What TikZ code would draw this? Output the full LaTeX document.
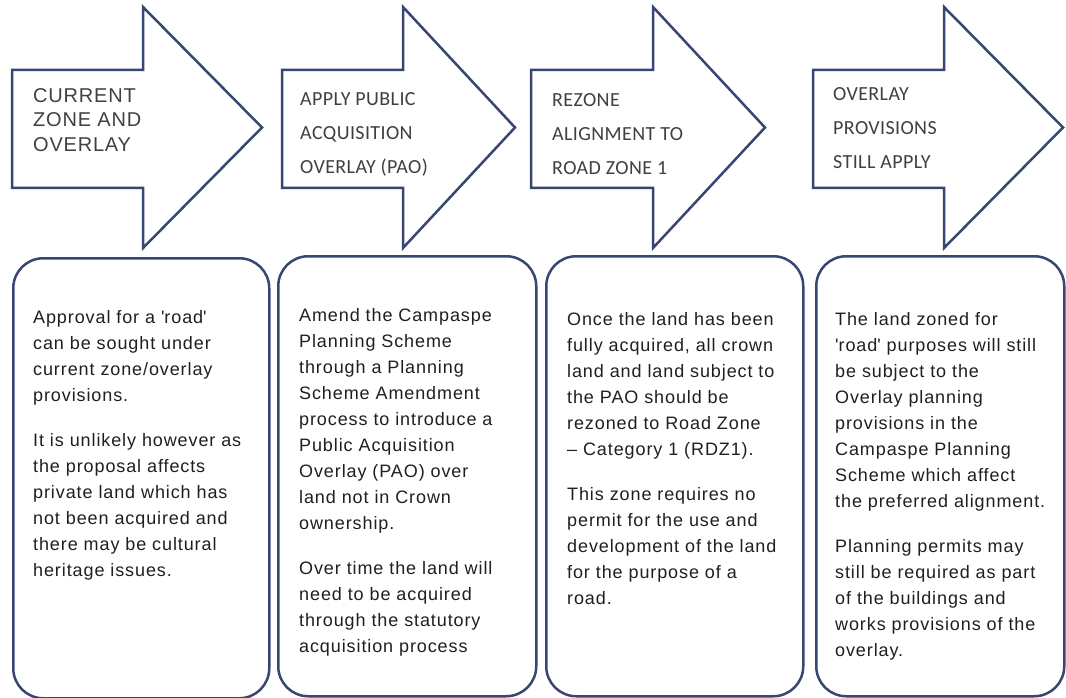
\documentclass[tikz,border=0pt]{standalone}
\usepackage{fontspec}
\setmainfont{Liberation Sans}[LetterSpace=5]
\newfontfamily\headfont{Carlito}[LetterSpace=2]
\newfontfamily\firsthead{Liberation Sans}[LetterSpace=4]
\definecolor{framecol}{RGB}{55,70,115}
\tikzstyle{stage}=[draw=framecol,line width=2.5pt,fill=white,line join=miter]
\tikzstyle{detailbox}=[draw=framecol,line width=2.5pt,rounded corners=30pt,anchor=north west,minimum height=440pt,inner sep=0pt]
\tikzstyle{headtext}=[anchor=north west,inner sep=0pt,align=left,text=black!75,font=\headfont\fontsize{20}{34}\selectfont]
\tikzstyle{bodytext}=[anchor=north west,inner sep=0pt,align=left,text=black!88,font=\fontsize{18}{26}\selectfont]

\begin{document}
\begin{tikzpicture}[x=1pt,y=-1pt]
	\useasboundingbox (0,0) rectangle (1066,698);
	% First we draw the arrows
	\foreach \left/\base/\tip in {12/143/262, 282/403/515, 531/653/765, 813/944/1063}
	\draw[stage] (\left,70) -- (\base,70) -- (\base,7) -- (\tip,127.5) -- (\base,248) -- (\base,188) -- (\left,188) -- cycle;
	
	% Then the rounded boxes below them
	\foreach \pos/\w/\name in {{(12,257)/256/box1}, {(277,255)/258/box2}, {(545,255)/257/box3}, {(815,255)/248/box4}}
	\node[detailbox,minimum width=\w pt] (\name) at \pos {};
	
	% Headings in the arrows
	\node[headtext,font=\firsthead\fontsize{20}{24.5}\selectfont] (head1) at (33,88) {CURRENT\\ZONE AND\\OVERLAY};
	\node[headtext] (head2) at (300,92) {APPLY PUBLIC\\ACQUISITION\\OVERLAY (PAO)};
	\node[headtext] (head3) at (552,93) {REZONE\\ALIGNMENT TO\\ROAD ZONE 1};
	\node[headtext] (head4) at (833,87) {OVERLAY\\PROVISIONS\\STILL APPLY};
	
	% Text in the boxes
	\node[bodytext] (text1) at (33,310) {Approval for a \textquotesingle road\textquotesingle\\can be sought under\\current zone/overlay\\provisions.\\[19pt]It is unlikely however as\\the proposal affects\\private land which has\\not been acquired and\\there may be cultural\\heritage issues.};
	\node[bodytext] (text2) at (299,308) {Amend the Campaspe\\Planning Scheme\\through a Planning\\Scheme Amendment\\process to introduce a\\Public Acquisition\\Overlay (PAO) over\\land not in Crown\\ownership.\\[19pt]Over time the land will\\need to be acquired\\through the statutory\\acquisition process};
	\node[bodytext] (text3) at (567,312) {Once the land has been\\fully acquired, all crown\\land and land subject to\\the PAO should be\\rezoned to Road Zone\\-- Category 1 (RDZ1).\\[19pt]This zone requires no\\permit for the use and\\development of the land\\for the purpose of a\\road.};
	\node[bodytext] (text4) at (835,312) {The land zoned for\\\textquotesingle road\textquotesingle{} purposes will still\\be subject to the\\Overlay planning\\provisions in the\\Campaspe Planning\\Scheme which affect\\the preferred alignment.\\[19pt]Planning permits may\\still be required as part\\of the buildings and\\works provisions of the\\overlay.};
\end{tikzpicture}
\end{document}
